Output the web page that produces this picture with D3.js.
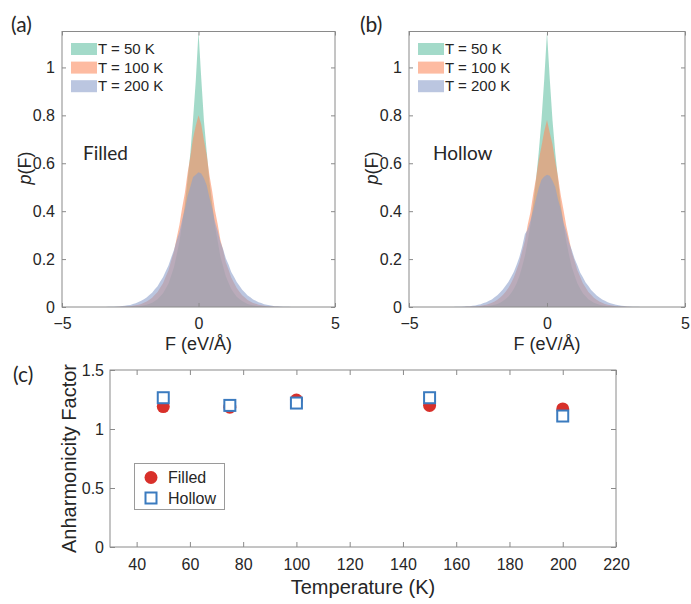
<!DOCTYPE html>
<html>
<head>
<meta charset="utf-8">
<script src="https://cdn.jsdelivr.net/npm/d3@7/dist/d3.min.js"></script>
<style>
  body { margin: 0; background: #fff; }
  text { font-family: "Liberation Sans", Arial, Helvetica, sans-serif; fill: #262626; }
  .tag { font-family: Lato, "Open Sans", sans-serif; }
</style>
</head>
<body>
<svg id="fig" width="691" height="604"></svg>
<script>
// ---- force-distribution histograms: bin centres every 0.1 from -4.0 ----
const binFirstCentre = -4.0;
const binWidth = 0.1;
const seriesLabels = ["T = 50 K", "T = 100 K", "T = 200 K"];
const seriesColors = ["#66c2a5", "#fc8d62", "#8da0cb"];

const filled50 = [0,0,0,0,0,0,0,0,0,0,0,0,
  0.0002,0.0004,0.0008,0.0011,0.0018,0.0024,0.0036,0.0049,0.0072,0.0093,0.0134,0.0176,0.0254,0.0326,
  0.0447,0.0573,0.0772,0.0985,0.132,0.166,0.218,0.272,0.349,0.427,0.534,0.641,0.784,0.944,
  1.15,
  0.957,0.776,0.649,0.526,0.434,0.341,0.278,0.212,0.17,0.128,0.101,0.075,0.0588,0.0433,0.0336,
  0.0246,0.0184,0.0127,0.0097,0.0068,0.0051,0.0034,0.0026,0.0016,0.0011,0.0007,0.0004,0.0002,
  0,0,0,0,0,0,0,0,0,0,0,0];
const filled100 = [0,0,0,0,0,0,0,0,0,
  0.0002,0.0004,0.0008,0.0011,0.0018,0.0024,0.0036,0.0052,0.0068,0.0098,0.0127,0.0179,0.0226,0.0307,
  0.0384,0.0508,0.0621,0.0813,0.0987,0.127,0.153,0.193,0.232,0.288,0.342,0.413,0.476,0.559,0.626,0.704,0.757,
  0.80,
  0.763,0.696,0.634,0.551,0.484,0.406,0.348,0.282,0.238,0.187,0.157,0.123,0.101,0.0788,0.0637,0.0493,
  0.0396,0.0294,0.0233,0.0171,0.0133,0.0092,0.0071,0.0048,0.0035,0.0024,0.0017,0.0011,0.0007,0.0004,0.0002,
  0,0,0,0,0,0,0,0,0];
const filled200 = [0,0,0,0,0,
  0.0002,0.0004,0.0006,0.0011,0.0014,0.0021,0.0026,0.0038,0.0049,0.0072,0.0088,0.0123,0.0157,0.0204,
  0.0256,0.0326,0.0394,0.0497,0.0593,0.0741,0.0869,0.106,0.124,0.149,0.173,0.207,0.238,0.278,0.312,
  0.363,0.407,0.463,0.502,0.543,0.552,
  0.563,
  0.557,0.537,0.508,0.457,0.413,0.357,0.318,0.272,0.242,0.203,0.177,0.146,0.126,0.104,0.0892,0.0722,
  0.0607,0.0484,0.0406,0.0315,0.0263,0.0197,0.0163,0.0118,0.0092,0.0068,0.0051,0.0036,0.0028,0.0019,
  0.0015,0.0009,0.0007,0.0003,0.0002,
  0,0,0,0,0];

const hollow50 = [0,0,0,0,0,0,0,0,0,0,0,0,
  0.0002,0.0005,0.0007,0.0012,0.0017,0.0027,0.0034,0.0052,0.0069,0.0098,0.0129,0.0181,0.0249,0.0334,
  0.0439,0.0581,0.0764,0.0993,0.129,0.169,0.214,0.276,0.343,0.431,0.529,0.646,0.781,0.951,
  1.148,
  0.953,0.779,0.643,0.532,0.428,0.347,0.273,0.217,0.166,0.131,0.0987,0.0768,0.0577,0.0444,0.0328,
  0.0253,0.0178,0.0132,0.0093,0.0071,0.0049,0.0036,0.0024,0.0017,0.0010,0.0007,0.0004,0.0002,
  0,0,0,0,0,0,0,0,0,0,0,0];
const hollow100 = [0,0,0,0,0,0,0,0,0,
  0.0002,0.0005,0.0007,0.0012,0.0017,0.0026,0.0034,0.0051,0.0069,0.0096,0.0131,0.0174,0.0232,0.0298,
  0.0393,0.0496,0.0634,0.0794,0.1007,0.124,0.156,0.188,0.233,0.277,0.343,0.396,0.472,0.536,0.613,0.671,0.734,
  0.781,
  0.727,0.678,0.606,0.544,0.466,0.404,0.337,0.284,0.227,0.192,0.153,0.127,0.0988,0.0812,0.0622,0.0507,
  0.0384,0.0305,0.0227,0.0178,0.0128,0.0098,0.0068,0.0052,0.0033,0.0025,0.0016,0.0011,0.0006,0.0004,0.0002,
  0,0,0,0,0,0,0,0,0];
const hollow200 = [0,0,0,0,0,
  0.0002,0.0003,0.0007,0.0009,0.0015,0.0019,0.0028,0.0036,0.0052,0.0067,0.0093,0.0117,0.0162,0.0199,
  0.0262,0.0318,0.0403,0.0488,0.0602,0.0727,0.0884,0.104,0.125,0.147,0.176,0.209,0.252,0.305,0.322,
  0.36,0.403,0.452,0.497,0.531,0.545,
  0.552,
  0.548,0.527,0.501,0.449,0.408,0.352,0.314,0.268,0.238,0.201,0.174,0.144,0.124,0.102,0.0879,0.0714,
  0.0598,0.0479,0.0399,0.0312,0.0258,0.0196,0.0159,0.0121,0.0089,0.0069,0.0049,0.0037,0.0026,0.0019,
  0.0013,0.0009,0.0006,0.0003,0.0002,
  0,0,0,0,0];

const forceTicks = [-5, 0, 5];
const densityTicks = [0, 0.2, 0.4, 0.6, 0.8, 1];

// ---- anharmonicity factor vs temperature ----
const temperatures = [50, 75, 100, 150, 200];
const anharmFilled = [1.19, 1.185, 1.245, 1.20, 1.17];
const anharmHollow = [1.265, 1.20, 1.22, 1.265, 1.11];
const temperatureTicks = [40, 60, 80, 100, 120, 140, 160, 180, 200, 220];
const factorTicks = [0, 0.5, 1, 1.5];

const svg = d3.select("#fig");
svg.append("rect").attr("width", 691).attr("height", 604).attr("fill", "#fff");

const axisColor = "#8a8a8a";

function styleAxis(g) {
  g.select(".domain").remove();
  g.selectAll(".tick line").attr("stroke", axisColor);
  g.selectAll(".tick text").attr("font-size", 16).attr("fill", "#262626");
}

function framedAxes(g, x, y, xTicks, yTicks, xFmt, yFmt, tick, xPad, yPad) {
  const [x0, x1] = x.range();
  const [y0, y1] = y.range();
  g.append("g").attr("transform", `translate(0,${y0})`)
    .call(d3.axisBottom(x).tickValues(xTicks).tickFormat(xFmt).tickSizeInner(-tick).tickSizeOuter(0).tickPadding(xPad))
    .call(styleAxis);
  g.append("g").attr("transform", `translate(0,${y1})`)
    .call(d3.axisTop(x).tickValues(xTicks).tickFormat("").tickSizeInner(-tick).tickSizeOuter(0))
    .call(styleAxis);
  g.append("g").attr("transform", `translate(${x0},0)`)
    .call(d3.axisLeft(y).tickValues(yTicks).tickFormat(yFmt).tickSizeInner(-tick).tickSizeOuter(0).tickPadding(yPad))
    .call(styleAxis);
  g.append("g").attr("transform", `translate(${x1},0)`)
    .call(d3.axisRight(y).tickValues(yTicks).tickFormat("").tickSizeInner(-tick).tickSizeOuter(0))
    .call(styleAxis);
  g.append("rect")
    .attr("x", x0).attr("y", y1).attr("width", x1 - x0).attr("height", y0 - y1)
    .attr("fill", "none").attr("stroke", axisColor).attr("stroke-width", 1);
}

function histogramPanel(id, left, right, tagText, tagX, labelText, labelX, series) {
  const top = 31.5, bottom = 307;
  const x = d3.scaleLinear().domain([-5, 5]).range([left, right]);
  const y = d3.scaleLinear().domain([0, 1.15]).range([bottom, top]);
  const g = svg.append("g");

  g.append("clipPath").attr("id", "clip-" + id)
    .append("rect").attr("x", left).attr("y", top).attr("width", right - left).attr("height", bottom - top);

  const area = d3.area()
    .x(d => x(d[0]))
    .y0(y(0))
    .y1(d => y(d[1]));

  series.forEach((vals, k) => {
    const pts = vals.map((v, i) => [binFirstCentre + i * binWidth, v]);
    g.append("path")
      .attr("clip-path", `url(#clip-${id})`)
      .attr("d", area(pts))
      .attr("fill", seriesColors[k])
      .attr("fill-opacity", 0.6);
  });

  framedAxes(g, x, y, forceTicks, densityTicks, d3.format("d"), d => d3.format("")(d), 4, 11, 7);

  // legend
  seriesLabels.forEach((lab, k) => {
    const yy = 43 + k * 18.6;
    g.append("rect").attr("x", left + 9).attr("y", yy).attr("width", 26).attr("height", 12)
      .attr("fill", seriesColors[k]).attr("fill-opacity", 0.6);
    g.append("text").attr("x", left + 36).attr("y", yy + 11).attr("font-size", 15).text(lab);
  });

  // axis titles
  g.append("text").attr("x", (left + right) / 2).attr("y", 350)
    .attr("text-anchor", "middle").attr("font-size", 18).text("F (eV/Å)");
  const yl = g.append("text").attr("transform", `translate(${left - 31},168) rotate(-90)`)
    .attr("text-anchor", "middle").attr("font-size", 18);
  yl.append("tspan").attr("font-style", "italic").text("p");
  yl.append("tspan").text("(F)");

  // panel tag and structure name
  g.append("text").attr("class", "tag").attr("x", tagX).attr("y", 32).attr("font-size", 21).text(tagText);
  g.append("text").attr("class", "tag").attr("x", labelX).attr("y", 160).attr("font-size", 19).text(labelText);
}

histogramPanel("a", 62, 335, "(a)", 11, "Filled", 83, [filled50, filled100, filled200]);
histogramPanel("b", 409, 685, "(b)", 360, "Hollow", 433, [hollow50, hollow100, hollow200]);

// ---- panel (c) ----
{
  const left = 110, right = 616, top = 370, bottom = 547;
  const x = d3.scaleLinear().domain([30, 220]).range([left, right]);
  const y = d3.scaleLinear().domain([0, 1.5]).range([bottom, top]);
  const g = svg.append("g");

  framedAxes(g, x, y, temperatureTicks, factorTicks, d3.format("d"), d => d3.format("")(d), 5, 12, 6);

  const red = "#d8302a", blue = "#3b7bbf";
  g.selectAll("circle.filled").data(temperatures).join("circle")
    .attr("class", "filled")
    .attr("cx", d => x(d)).attr("cy", (d, i) => y(anharmFilled[i])).attr("r", 6.5)
    .attr("fill", red);
  g.selectAll("rect.hollow").data(temperatures).join("rect")
    .attr("class", "hollow")
    .attr("x", d => x(d) - 5.5).attr("y", (d, i) => y(anharmHollow[i]) - 5.5)
    .attr("width", 11).attr("height", 11)
    .attr("fill", "#fff").attr("stroke", blue).attr("stroke-width", 2);

  // legend
  g.append("rect").attr("x", 134.5).attr("y", 463.5).attr("width", 90).attr("height", 46)
    .attr("fill", "#fff").attr("stroke", "#9a9a9a").attr("stroke-width", 1);
  g.append("circle").attr("cx", 151).attr("cy", 477.5).attr("r", 6.5).attr("fill", red);
  g.append("rect").attr("x", 145.5).attr("y", 492.5).attr("width", 11).attr("height", 11)
    .attr("fill", "#fff").attr("stroke", blue).attr("stroke-width", 2);
  g.append("text").attr("x", 168).attr("y", 483).attr("font-size", 16).text("Filled");
  g.append("text").attr("x", 168).attr("y", 503.5).attr("font-size", 16).text("Hollow");

  g.append("text").attr("x", (left + right) / 2).attr("y", 594)
    .attr("text-anchor", "middle").attr("font-size", 20).text("Temperature (K)");
  g.append("text").attr("transform", `translate(76,${(top + bottom) / 2}) rotate(-90)`)
    .attr("text-anchor", "middle").attr("font-size", 20).text("Anharmonicity Factor");
  g.append("text").attr("class", "tag").attr("x", 13).attr("y", 382).attr("font-size", 21).text("(c)");
}
</script>
</body>
</html>
